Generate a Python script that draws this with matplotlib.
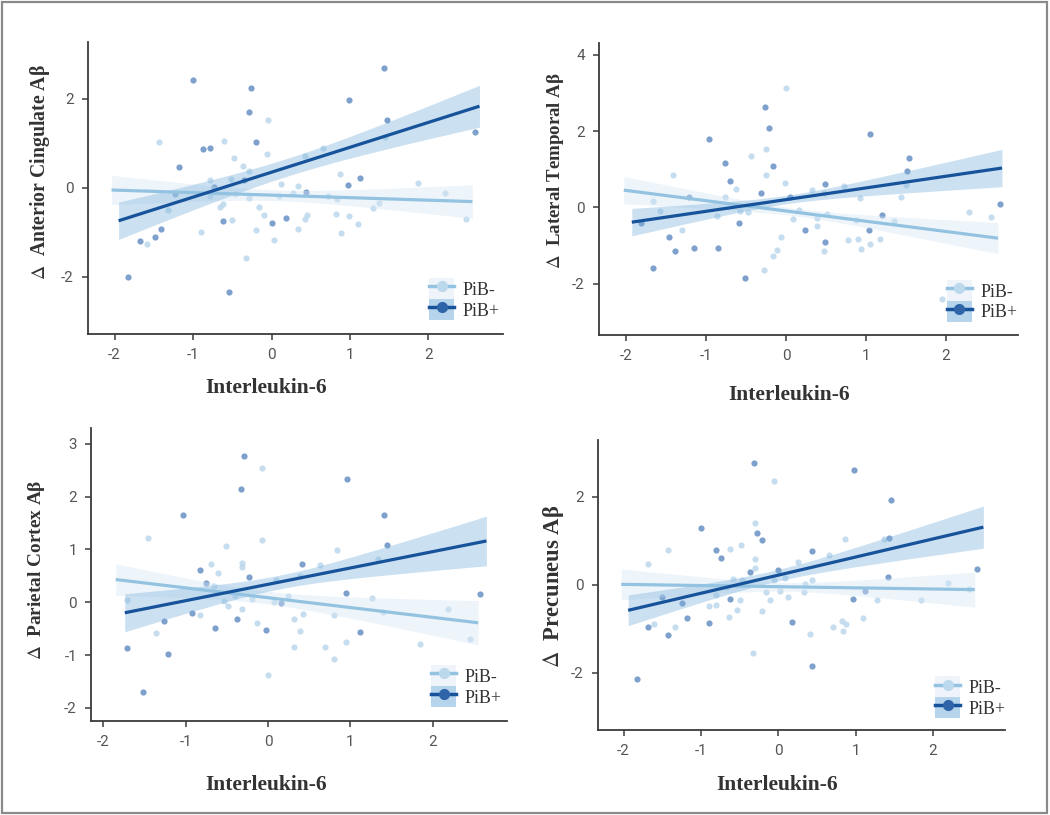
import numpy as np
import matplotlib
matplotlib.use("Agg")
import matplotlib.pyplot as plt
from matplotlib.patches import Patch, Rectangle
from matplotlib.lines import Line2D
from matplotlib.legend_handler import HandlerTuple

plt.rcParams['axes.unicode_minus'] = False
plt.rcParams['mathtext.fontset'] = 'stix'

# ---------------- data ----------------
group_labels = ["PiB-", "PiB+"]
x_label = "Interleukin-6"
y_labels = [r"$\Delta$  Anterior Cingulate A\u03b2", r"$\Delta$  Lateral Temporal A\u03b2",
            r"$\Delta$  Parietal Cortex A\u03b2", r"$\Delta$  Precuneus A\u03b2"]
y_labels = [s.replace("\\u03b2", "\u03b2") for s in y_labels]

# Panel 1: Anterior Cingulate
acc_neg_x = [-1.43, -0.61, -0.05, -0.48, -0.36, -0.29, -0.06, 0.42, 0.66, -0.79, -0.52, -0.46, -0.79, -0.66,
             -0.62, -0.50, -0.29, -0.16, -0.10, -0.20, 0.03, -0.33, -0.90, -1.32, -1.59, 0.12, 0.10, 0.27,
             0.34, 0.34, 0.42, 0.45, 0.72, 0.83, 0.87, 0.82, 0.88, 0.99, 1.10, 1.29, 1.37, 1.45, 1.87, 2.21, 2.48]
acc_neg_y = [1.03, 1.05, 1.51, 0.67, 0.48, 0.38, 0.75, 0.72, 0.90, 0.17, 0.19, -0.15, -0.18, -0.44,
             -0.37, -0.72, -0.22, -0.44, -0.61, -0.94, -1.17, -1.58, -0.99, -0.49, -1.27, 0.09, -0.18, -0.12,
             0.04, -0.93, -0.70, -0.60, -0.18, -0.25, 0.31, -0.59, -1.02, -0.63, -0.81, -0.46, -0.34, 1.13, 0.10, -0.12, -0.70]
acc_pos_x = [-1.00, -0.26, -0.29, -0.20, -0.88, -0.79, -1.18, -1.23, -0.73, -1.41, -1.49, -1.68, -1.83,
             -0.62, -0.54, 0.01, 0.19, 0.44, 0.98, 1.13, 0.99, 1.43, 1.47, 2.59, -0.35]
acc_pos_y = [2.41, 2.23, 1.69, 1.03, 0.88, 0.90, 0.46, -0.13, 0.01, -0.93, -1.11, -1.20, -2.01,
             -0.74, -2.33, -0.80, -0.67, -0.10, 0.07, 0.22, 1.96, 2.68, 1.51, 1.26, 0.17]

# Panel 2: Lateral Temporal
ltc_neg_x = [0.00, -0.25, -0.44, -0.25, -0.01, -1.41, -1.66, -1.58, -1.30, -0.77, -0.87, -0.63, -0.58, -0.48,
             -0.06, -0.12, -0.16, -0.28, 0.08, 0.16, 0.32, 0.48, 0.39, 0.39, 0.51, 0.48, 0.72, 0.78, 0.90,
             0.94, 1.05, 1.17, 0.93, 1.35, 1.44, 1.95, 2.29, 2.56, 0.88, 1.50]
ltc_neg_y = [3.14, 1.54, 1.35, 0.86, 0.64, 0.84, 0.17, -0.10, -0.59, 0.26, -0.22, 0.48, -0.11, -0.12,
             -0.77, -1.12, -1.28, -1.65, -0.32, -0.07, 0.46, 0.38, -0.27, -0.48, -0.17, -1.14, 0.57, -0.85, -0.82,
             -1.10, -0.97, -0.84, 0.24, -0.35, 0.26, -2.40, -0.13, -0.26, -0.33, 0.58]
ltc_pos_x = [-0.26, -0.22, -0.97, -0.77, -0.70, -0.16, -0.31, -0.59, -0.51, -0.85, -1.15, -1.39, -1.47,
             -1.66, -1.81, 0.05, 0.24, 0.49, 0.49, 1.05, 1.04, 1.20, 1.51, 1.54, 2.68, -1.21]
ltc_pos_y = [2.64, 2.07, 1.80, 1.15, 0.70, 1.09, 0.38, -0.42, -1.86, -1.08, -1.08, -1.15, -0.78,
             -1.58, -0.42, 0.26, -0.59, 0.61, -0.90, 1.93, -0.59, -0.19, 0.95, 1.29, 0.09, 0.26]

# Panel 3: Parietal Cortex
par_neg_x = [-0.08, -1.46, -0.08, -0.51, -0.32, -0.32, -0.69, -0.61, 0.84, 0.63, 1.34, 0.39, 0.10, 0.24,
             0.07, -0.19, -0.40, -0.53, -0.49, -0.66, -0.83, -0.32, -1.71, -1.36, -0.13, 0.31, 0.42, 0.39,
             0.31, 0.69, 0.80, 0.80, 0.95, 1.26, 1.40, 1.84, 2.18, 2.45, 0.00]
par_neg_y = [2.55, 1.21, 1.17, 1.07, 0.75, 0.67, 0.73, 0.55, 0.98, 0.71, 0.81, 0.50, 0.42, 0.12,
             0.01, 0.07, 0.12, 0.03, -0.08, 0.30, -0.25, -0.13, 0.05, -0.59, -0.39, -0.31, -0.23, -0.54,
             -0.85, -0.85, -0.24, -1.07, -0.75, 0.08, -0.19, -0.80, -0.13, -0.70, -1.37]
par_pos_x = [-0.29, -0.33, -1.03, 0.96, 1.41, 1.44, -0.83, -0.76, -0.23, 0.41, 0.95, 2.57, 0.16, -0.92,
             -1.26, -0.38, -0.65, -0.02, 1.11, -1.71, -1.21, -1.52]
par_pos_y = [2.77, 2.15, 1.65, 2.33, 1.65, 1.09, 0.61, 0.37, 0.47, 0.73, 0.18, 0.16, -0.02, -0.20,
             -0.36, -0.31, -0.49, -0.53, -0.57, -0.86, -0.98, -1.70]

# Panel 4: Precuneus
pcu_neg_x = [-0.06, -0.30, -1.43, -1.69, -0.62, -0.48, -0.30, -0.30, -0.59, -0.47, -0.06, 0.09, 0.26, 0.66,
             0.86, 1.36, 0.44, 0.34, 0.33, 0.12, 0.02, -0.16, -0.11, -0.21, -0.50, -0.53, -0.80, -0.81,
             -0.90, -0.64, -0.66, -1.33, -1.60, -0.33, 0.41, 0.71, 0.82, 0.87, 0.83, 1.09, 1.28, 1.85, 2.19, 2.47]
pcu_neg_y = [2.36, 1.41, 0.80, 0.48, 0.81, 0.90, 0.59, 0.39, 0.14, 0.10, 0.10, 0.16, 0.51, 0.67,
             1.05, 1.03, 0.11, 0.02, -0.17, -0.28, -0.15, -0.17, -0.35, -0.60, -0.34, -0.58, -0.23, -0.45,
             -0.48, -0.73, -0.05, -0.95, -0.90, -1.54, -1.11, -0.96, -0.82, -0.90, -1.05, -0.75, -0.35, -0.35, 0.05, -0.09]
pcu_pos_x = [-0.31, 0.98, 1.46, -1.00, -0.27, -0.21, -0.81, -0.74, 0.43, 1.43, -0.36, 0.00, -1.50, -1.24,
             -0.63, -1.69, -1.42, -1.18, -0.89, 0.18, 0.97, 1.12, 1.42, 2.57, 0.43, -1.83]
pcu_pos_y = [2.77, 2.60, 1.92, 1.29, 1.17, 1.01, 0.80, 0.61, 0.77, 1.07, 0.30, 0.33, -0.27, -0.41,
             -0.33, -0.95, -1.13, -0.76, -0.86, -0.84, -0.33, -0.15, 0.18, 0.35, -1.84, -2.14]

# Fitted lines: [x_start, y_start, x_end, y_end]
acc_fit_neg = [-2.04, -0.05, 2.56, -0.31]
acc_fit_pos = [-1.95, -0.74, 2.65, 1.83]
ltc_fit_neg = [-2.03, 0.45, 2.65, -0.81]
ltc_fit_pos = [-1.93, -0.39, 2.70, 1.03]
par_fit_neg = [-1.85, 0.43, 2.55, -0.39]
par_fit_pos = [-1.74, -0.20, 2.65, 1.16]
pcu_fit_neg = [-2.03, 0.01, 2.54, -0.11]
pcu_fit_pos = [-1.94, -0.58, 2.65, 1.31]

# Confidence band half-widths: [left end, narrowest, right end]
acc_band_neg = [0.33, 0.12, 0.38]
acc_band_pos = [0.42, 0.20, 0.47]
ltc_band_neg = [0.36, 0.10, 0.41]
ltc_band_pos = [0.36, 0.11, 0.49]
par_band_neg = [0.30, 0.12, 0.42]
par_band_pos = [0.36, 0.13, 0.47]
pcu_band_neg = [0.35, 0.10, 0.40]
pcu_band_pos = [0.35, 0.13, 0.48]

x_ticks = [-2, -1, 0, 1, 2]
y_ticks = [[-2, 0, 2], [-2, 0, 2, 4], [-2, -1, 0, 1, 2, 3], [-2, 0, 2]]

# ---------------- styling ----------------
W, H = 1050, 815
c_neg_pt, c_pos_pt = "#bbd8ec", "#6690c4"
c_neg_line, c_pos_line = "#93c3e1", "#17539a"
c_neg_band, c_pos_band = "#d6e6f4", "#7fb3dd"
c_neg_key, c_pos_key = "#eef4fa", "#b6d4eb"
axis_col = "#3a3a3a"
tick_col = "#555555"

# pixel boxes: left, right, top, bottom
boxes = [(88, 503, 42, 334), (599, 1018, 43, 335), (91, 507, 428, 721), (598, 1005, 440, 730)]
xlims = [(-2.34, 2.95), (-2.34, 2.90), (-2.15, 2.90), (-2.33, 2.93)]
ylims = [(-3.28, 3.27), (-3.35, 4.31), (-2.25, 3.30), (-3.30, 3.29)]
# y label: x centre, y centre, length in pixels
ylabel_pos = [(40, 172, 215), (555, 171, 197), (37, 570, 180), (553, 586, 163)]
xlabel_pos = [(266, 388), (789, 395), (266, 785), (777, 785)]
legend_anchor = [(0.822, 0.048), (0.830, 0.045), (0.817, 0.048), (0.828, 0.041)]

panels = [
    (acc_neg_x, acc_neg_y, acc_pos_x, acc_pos_y, acc_fit_neg, acc_fit_pos, acc_band_neg, acc_band_pos),
    (ltc_neg_x, ltc_neg_y, ltc_pos_x, ltc_pos_y, ltc_fit_neg, ltc_fit_pos, ltc_band_neg, ltc_band_pos),
    (par_neg_x, par_neg_y, par_pos_x, par_pos_y, par_fit_neg, par_fit_pos, par_band_neg, par_band_pos),
    (pcu_neg_x, pcu_neg_y, pcu_pos_x, pcu_pos_y, pcu_fit_neg, pcu_fit_pos, pcu_band_neg, pcu_band_pos),
]


def band_halfwidth(xs, xl, xr, hl, hm, hr):
    a = hm ** 2
    r = np.sqrt((hl ** 2 - a) / (hr ** 2 - a))
    xm = (xl + r * xr) / (1 + r)
    b = (hl ** 2 - a) / (xl - xm) ** 2
    return np.sqrt(a + b * (xs - xm) ** 2)


def draw_fit(ax, fit, band, line_col, band_col):
    xs = np.linspace(fit[0], fit[2], 200)
    ys = np.interp(xs, [fit[0], fit[2]], [fit[1], fit[3]])
    hw = band_halfwidth(xs, fit[0], fit[2], *band)
    ax.fill_between(xs, ys - hw, ys + hw, color=band_col, alpha=0.4, lw=0, zorder=2)
    ax.plot(xs, ys, color=line_col, lw=2.3, zorder=3, solid_capstyle='butt')


fig = plt.figure(figsize=(W / 100, H / 100), dpi=100)
fig.patches.append(Rectangle((0.0015, 0.002), 0.996, 0.996, transform=fig.transFigure,
                             fill=False, edgecolor="#8a8a8a", lw=1.6))
renderer = fig.canvas.get_renderer()

for i, (nx, ny, px, py, fn, fp, bn, bp) in enumerate(panels):
    l, r, t, b = boxes[i]
    ax = fig.add_axes([l / W, 1 - b / H, (r - l) / W, (b - t) / H])
    ax.scatter(nx, ny, s=20, color=c_neg_pt, alpha=0.85, lw=0, zorder=1)
    ax.scatter(px, py, s=20, color=c_pos_pt, alpha=0.85, lw=0, zorder=1)
    draw_fit(ax, fn, bn, c_neg_line, c_neg_band)
    draw_fit(ax, fp, bp, c_pos_line, c_pos_band)
    ax.set_xlim(*xlims[i])
    ax.set_ylim(*ylims[i])
    ax.set_xticks(x_ticks)
    ax.set_yticks(y_ticks[i])
    for s in ["top", "right"]:
        ax.spines[s].set_visible(False)
    for s in ["left", "bottom"]:
        ax.spines[s].set_color(axis_col)
        ax.spines[s].set_linewidth(1.3)
    ax.tick_params(direction="out", length=4, width=1.1, color=axis_col,
                   labelcolor=tick_col, labelsize=11, pad=6)
    for lab in ax.get_xticklabels() + ax.get_yticklabels():
        lab.set_fontfamily("Roboto")

    h_neg = (Patch(facecolor=c_neg_key, edgecolor="none"),
             Line2D([], [], color=c_neg_line, lw=2.5, marker="o", markersize=7,
                    markerfacecolor=c_neg_pt, markeredgecolor=c_neg_pt))
    h_pos = (Patch(facecolor=c_pos_key, edgecolor="none"),
             Line2D([], [], color=c_pos_line, lw=2.5, marker="o", markersize=7,
                    markerfacecolor="#2f64a8", markeredgecolor="#2f64a8"))
    leg = ax.legend([h_neg, h_pos], group_labels, handler_map={tuple: HandlerTuple(ndivide=1)},
                    loc="lower left", bbox_to_anchor=legend_anchor[i], frameon=False,
                    borderpad=0, borderaxespad=0, handlelength=1.4, handleheight=1.4,
                    handletextpad=0.45, labelspacing=0.0,
                    prop={"family": "Liberation Serif", "size": 13})
    for tx in leg.get_texts():
        tx.set_color("#333333")

    xl, yl, length = ylabel_pos[i]
    yt = fig.text(xl / W, 1 - yl / H, y_labels[i], rotation=90, ha="center", va="center",
                  family="Liberation Serif", weight="bold", fontsize=15.5, color="#333333")
    ext = yt.get_window_extent(renderer)
    yt.set_fontsize(15.5 * length / ext.height)
    xx, yx = xlabel_pos[i]
    fig.text(xx / W, 1 - yx / H, x_label, ha="center", va="center",
             family="Liberation Serif", weight="bold", fontsize=15.5, color="#333333")

fig.savefig("out.png", dpi=100)
